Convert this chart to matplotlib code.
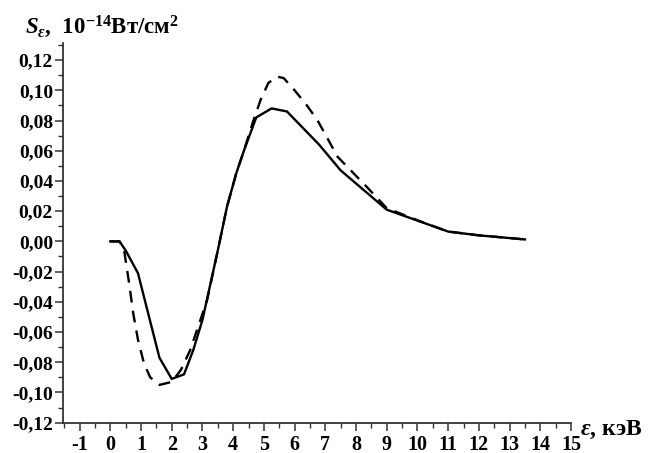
import matplotlib
matplotlib.use('Agg')
import matplotlib.pyplot as plt
from matplotlib.ticker import MultipleLocator, FuncFormatter

# ---- data ----
solid_x = [0.0, 0.3, 0.5, 0.9, 1.2, 1.6, 2.0, 2.4, 2.7, 3.0, 3.5, 3.8, 4.1,
           4.35, 4.75, 5.25, 5.75, 6.8, 7.5, 9.0, 11.0, 12.0, 13.5]
solid_y = [0.0, 0.0, -0.006, -0.021, -0.045, -0.077, -0.091, -0.088, -0.072,
           -0.052, -0.006, 0.023, 0.045, 0.060, 0.082, 0.088, 0.086, 0.064,
           0.047, 0.021, 0.0065, 0.004, 0.0013]

dash_x = [0.0, 0.3, 0.45, 0.6, 0.75, 0.9, 1.1, 1.3, 1.6, 2.0, 2.3, 2.6, 2.9,
          3.15, 3.5, 3.8, 4.1, 4.35, 4.66, 4.9, 5.15, 5.45, 5.65, 6.0, 6.4,
          6.75, 7.4, 8.4, 9.0, 10.0, 11.0, 12.0, 13.5]
dash_y = [0.0, 0.0, -0.006, -0.026, -0.048, -0.065, -0.081, -0.090, -0.095,
          -0.093, -0.085, -0.072, -0.054, -0.039, -0.006, 0.023, 0.045, 0.060,
          0.080, 0.094, 0.105, 0.109, 0.108, 0.100, 0.090, 0.080, 0.056,
          0.035, 0.022, 0.014, 0.0065, 0.004, 0.0013]

x_ticks = list(range(-1, 16))
y_ticks = [-0.12, -0.10, -0.08, -0.06, -0.04, -0.02, 0.0, 0.02, 0.04, 0.06,
           0.08, 0.10, 0.12]

plt.rcParams['font.family'] = ['Liberation Serif', 'DejaVu Serif']
plt.rcParams['font.weight'] = 'bold'
plt.rcParams['mathtext.fontset'] = 'custom'
plt.rcParams['mathtext.rm'] = 'Liberation Serif:bold'
plt.rcParams['mathtext.it'] = 'Liberation Serif:bold:italic'
plt.rcParams['mathtext.bf'] = 'Liberation Serif:bold'

W, H = 648, 453
fig = plt.figure(figsize=(W / 100, H / 100), dpi=100)
left, right, bottom, top = 62.7, 571.0, 422.7, 42.7
ax = fig.add_axes([left / W, 1 - bottom / H, (right - left) / W, (bottom - top) / H])

ax.plot(solid_x, solid_y, color='black', lw=1.7)
ax.plot(dash_x, dash_y, color='black', lw=1.7, dashes=(5, 3.5))

ax.set_xlim(-1.55, 15.0)
ax.set_ylim(-0.12, 0.1315)

for s in ['top', 'right']:
    ax.spines[s].set_visible(False)
for s in ['left', 'bottom']:
    ax.spines[s].set_linewidth(1.3)
    ax.spines[s].set_color('#333333')

ax.set_xticks(x_ticks)
ax.set_yticks(y_ticks)
ax.xaxis.set_minor_locator(MultipleLocator(0.5))
ax.yaxis.set_minor_locator(MultipleLocator(0.01))


def yfmt(v, pos):
    s = f"{v:.2f}"
    if s == "-0.00":
        s = "0.00"
    return s.replace('.', ',')


ax.yaxis.set_major_formatter(FuncFormatter(yfmt))
ax.xaxis.set_major_formatter(FuncFormatter(lambda v, p: f"{int(round(v))}"))

ax.tick_params(which='major', direction='out', length=5.5, width=1.1,
               color='#333333', labelsize=14)
ax.tick_params(which='minor', direction='out', length=3.5, width=1.0,
               color='#333333')
ax.tick_params(axis='y', which='major', pad=1.5)
ax.tick_params(axis='x', which='major', pad=3, labelsize=14.5)

fig.text(25 / W, 1 - 33 / H, r'$S_\varepsilon$,  10$^{-14}$Вт/см$^2$',
         fontsize=16.5, va='baseline', ha='left')
fig.text(580 / W, 1 - 435 / H, r'$\varepsilon$, кэВ', fontsize=17,
         va='baseline', ha='left')

fig.savefig('out.png', dpi=100)
